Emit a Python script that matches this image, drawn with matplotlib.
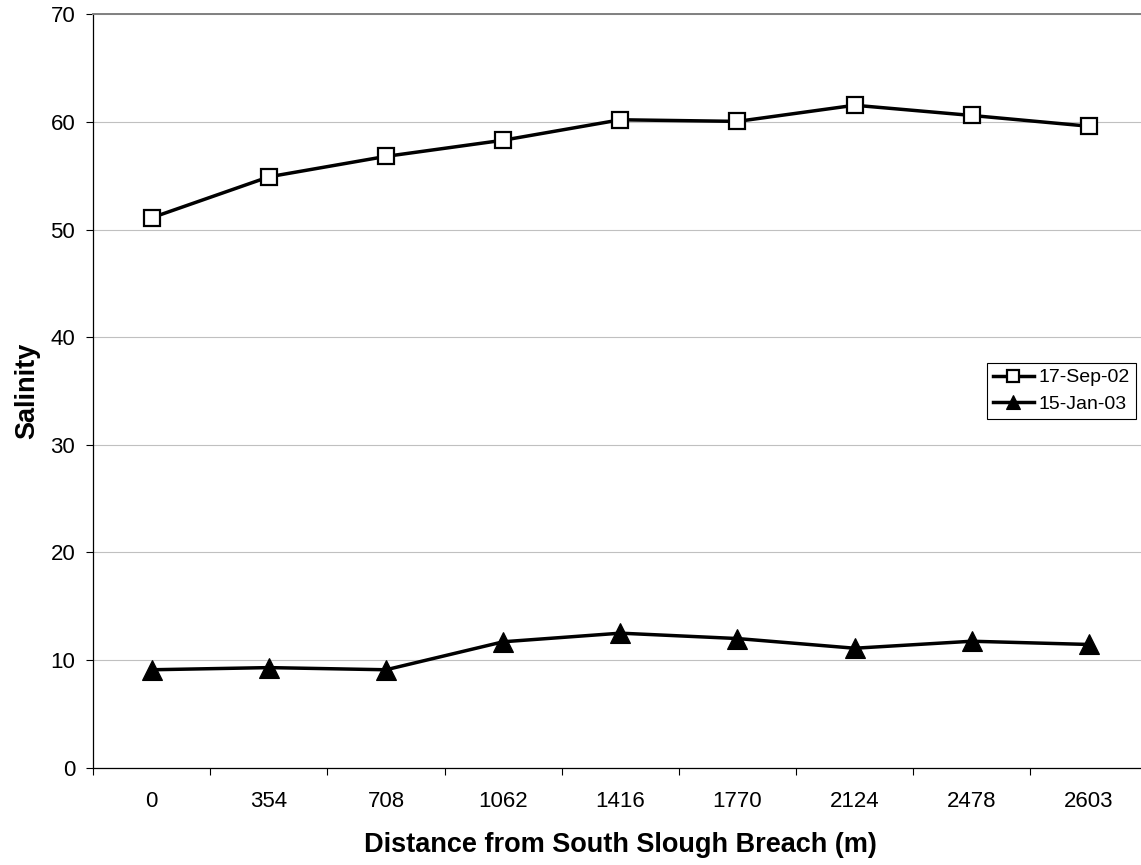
import matplotlib
matplotlib.use("Agg")
import matplotlib.pyplot as plt
import numpy as np

plt.rcParams['font.family'] = ['Liberation Sans', 'DejaVu Sans']

categories = ["0", "354", "708", "1062", "1416", "1770", "2124", "2478", "2603"]
sep02 = [51.1, 54.9, 56.8, 58.3, 60.2, 60.05, 61.55, 60.6, 59.6]
jan03 = [9.1, 9.3, 9.1, 11.7, 12.5, 12.0, 11.1, 11.75, 11.45]
series_labels = ["17-Sep-02", "15-Jan-03"]
yticks = [0, 10, 20, 30, 40, 50, 60, 70]

W, H = 1141, 865
fig = plt.figure(figsize=(W / 100, H / 100), dpi=100)
left_px, right_px, top_px, bottom_px = 93.2, 1147.5, 14.3, 767.7
ax = fig.add_axes([left_px / W, 1 - bottom_px / H, (right_px - left_px) / W, (bottom_px - top_px) / H])

x = np.arange(len(categories))
ax.plot(x, sep02, color='black', lw=2.5, marker='s', ms=12, mfc='white', mec='black', mew=1.6,
        label=series_labels[0], zorder=3)
ax.plot(x, jan03, color='black', lw=2.5, marker='^', ms=14, mfc='black', mec='black', mew=0.8,
        label=series_labels[1], zorder=3)

ax.set_xlim(-0.5, len(categories) - 0.5)
ax.set_ylim(0, 70)
ax.set_yticks(yticks)
ax.set_yticklabels([str(v) for v in yticks])
ax.yaxis.grid(True, color='#c0c0c0', lw=0.8)
ax.set_axisbelow(True)

# category boundaries as major ticks, labels at centers as minor ticks
ax.set_xticks(np.arange(-0.5, len(categories), 1.0))
ax.set_xticklabels([])
ax.set_xticks(x, minor=True)
ax.set_xticklabels(categories, minor=True)
ax.tick_params(axis='x', which='major', direction='out', length=5, width=0.8, color='black')
ax.tick_params(axis='x', which='minor', length=0, pad=17, labelsize=16)
ax.tick_params(axis='y', direction='out', length=5, width=0.8, pad=8, labelsize=16)

for s in ['left', 'bottom']:
    ax.spines[s].set_color('black')
    ax.spines[s].set_linewidth(0.9)
for s in ['top', 'right']:
    ax.spines[s].set_color('#808080')
    ax.spines[s].set_linewidth(1.4)

ax.set_xlabel("Distance from South Slough Breach (m)", fontsize=19.5, fontweight='bold', labelpad=14)
ax.set_ylabel("Salinity", fontsize=19.5, fontweight='bold', labelpad=7)

leg = fig.legend(loc='upper left', bbox_to_anchor=(987 / W, 1 - 363 / H), bbox_transform=fig.transFigure,
                 fontsize=14, markerscale=0.7, handlelength=2.1, handletextpad=0.25,
                 labelspacing=0.45, borderpad=0.3, borderaxespad=0, fancybox=False,
                 edgecolor='black', framealpha=1)
leg.get_frame().set_linewidth(0.8)

fig.savefig("out.png", dpi=100)
